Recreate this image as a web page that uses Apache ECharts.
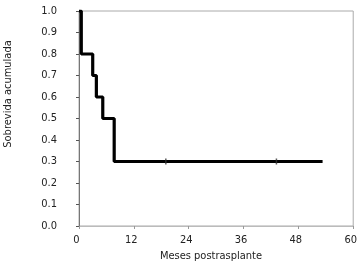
<!DOCTYPE html>
<html>
<head>
<meta charset="utf-8">
<script src="https://cdn.jsdelivr.net/npm/echarts@6/dist/echarts.min.js"></script>
<style>
  html, body { margin: 0; padding: 0; background: #fff; }
  #chart { width: 360px; height: 264px; }
</style>
</head>
<body>
<div id="chart"></div>
<script>
// curva de supervivencia (meses, proporcion)
const meses = [0, 0.5, 3, 3.8, 5.2, 7.7, 53.3];
const sobrevida = [1.0, 0.8, 0.7, 0.6, 0.5, 0.3, 0.3];
// pacientes censurados
const censuraMeses = [19, 43.2];
const censuraValor = [0.3, 0.3];
const xTicks = [0, 12, 24, 36, 48, 60];

const fuente = 'DejaVu Sans Condensed';
const chart = echarts.init(document.getElementById('chart'));

const option = {
  animation: false,
  grid: {
    left: 79, right: 6, top: 11, bottom: 38,
    show: true, borderColor: '#aaa', borderWidth: 1
  },
  xAxis: {
    type: 'value',
    min: 0, max: 60, interval: 12,
    axisLine: { lineStyle: { color: '#bbb' } },
    axisTick: { show: true, length: 3, lineStyle: { color: '#999' } },
    splitLine: { show: false },
    axisLabel: {
      margin: 9, fontFamily: fuente, fontSize: 11, color: '#222',
      padding: [0, 5, 0, 0],
      formatter: v => xTicks.includes(v) ? String(v) : ''
    }
  },
  yAxis: {
    type: 'value',
    min: 0, max: 1, interval: 0.1,
    axisLine: { show: true, lineStyle: { color: '#777' } },
    axisTick: { show: true, length: 3, lineStyle: { color: '#555' } },
    splitLine: { show: false },
    axisLabel: {
      margin: 22, fontFamily: fuente, fontSize: 11, color: '#222',
      formatter: v => v.toFixed(1)
    }
  },
  graphic: [
    {
      type: 'text', x: 8, y: 94, rotation: Math.PI / 2,
      style: {
        text: 'Sobrevida acumulada', fontFamily: fuente, fontSize: 11,
        fill: '#222', align: 'center', verticalAlign: 'middle'
      }
    },
    {
      type: 'text', x: 211, y: 256,
      style: {
        text: 'Meses postrasplante', fontFamily: fuente, fontSize: 11,
        fill: '#222', align: 'center', verticalAlign: 'middle'
      }
    }
  ],
  series: [
    {
      type: 'line',
      step: 'end',
      data: meses.map((m, i) => [m, sobrevida[i]]),
      showSymbol: false,
      lineStyle: { color: '#000', width: 3.2 }
    },
    {
      type: 'scatter',
      data: censuraMeses.map((m, i) => [m, censuraValor[i]]),
      symbol: 'rect',
      symbolSize: [1.5, 6],
      itemStyle: { color: '#333' },
      z: 3
    }
  ]
};

chart.setOption(option);
</script>
</body>
</html>
